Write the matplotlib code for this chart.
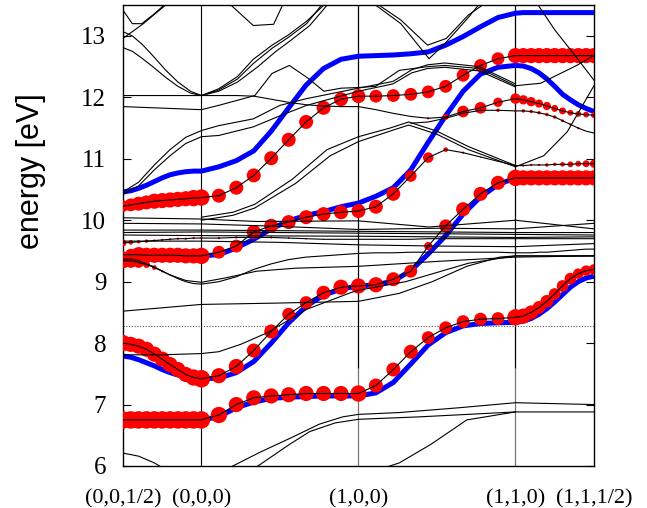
import numpy as np
import matplotlib.pyplot as plt

plt.rcParams['font.family'] = ['Liberation Serif', 'DejaVu Serif']

# path: Z(0,0,1/2) - G(0,0,0) - X(1,0,0) - M(1,1,0) - A(1,1,1/2)
kZ, kG, kX, kM, kA = 0.0, 0.5, 1.5, 2.5, 3.0
k = np.concatenate([np.linspace(kZ, kG, 11),
                    kG + np.arange(1, 10) / 9,
                    kX + np.arange(1, 10) / 9,
                    kM + np.arange(1, 11) * 0.05])

tick_pos = [kZ, kG, kX, kM, kA]
tick_lab = ['(0,0,1/2)', '(0,0,0)', '(1,0,0)', '(1,1,0)', '(1,1,1/2)']
e_fermi = 8.28

# bands carrying orbital weight (energy, dot diameter in px)
band_a = [6.75, 6.75, 6.75, 6.75, 6.75, 6.75, 6.75, 6.75, 6.75, 6.75, 6.75,
          6.83, 7.00, 7.11, 7.14, 7.16, 7.18, 7.18, 7.18, 7.18,
          7.31, 7.57, 7.86, 8.09, 8.25, 8.35, 8.39, 8.40, 8.42,
          8.44, 8.50, 8.58, 8.68, 8.80, 8.93, 9.05, 9.13, 9.18, 9.20]
size_a = [15, 15, 15, 15, 15, 15, 15, 15, 15, 15, 15,
          14, 13, 13, 13, 13, 13, 13, 13, 14,
          12, 12, 12, 11, 11, 11, 11, 11, 14,
          13, 12, 11, 11, 10, 10, 10, 9, 9, 9]

band_b = [8.00, 7.98, 7.95, 7.90, 7.82, 7.74, 7.65, 7.57, 7.49, 7.44, 7.42,
          7.47, 7.62, 7.88, 8.19, 8.47, 8.66, 8.82, 8.91, 8.93,
          8.95, 9.04, 9.17, 9.58, 9.91, 10.18, 10.43, 10.61, 10.69,
          10.69, 10.69, 10.69, 10.69, 10.69, 10.69, 10.69, 10.69, 10.69, 10.69]
size_b = [14, 13, 13, 13, 13, 13, 13, 13, 13, 14, 15,
          13, 13, 12, 12, 11, 11, 12, 13, 13,
          13, 12, 11, 7, 11, 12, 12, 12, 14,
          13, 13, 13, 13, 13, 13, 13, 13, 13, 13]

band_c = [9.44, 9.44, 9.44, 9.43, 9.43, 9.43, 9.43, 9.43, 9.42, 9.42, 9.42,
          9.48, 9.58, 9.81, 9.91, 9.97, 10.05, 10.10, 10.13, 10.15,
          10.22, 10.43, 10.72, 11.02, 11.15, 11.10, 11.03, 10.96, 10.89,
          10.89, 10.90, 10.90, 10.90, 10.91, 10.91, 10.91, 10.92, 10.92, 10.92]
size_c = [6, 10, 13, 13, 13, 13, 13, 13, 13, 13, 14,
          11, 11, 12, 12, 12, 12, 12, 12, 12,
          12, 12, 10, 9, 4, 2, 1, 1, 2,
          2, 2, 2, 3, 3, 4, 5, 5, 6, 7]

band_d = [10.23, 10.25, 10.27, 10.29, 10.31, 10.32, 10.33, 10.34, 10.35, 10.36, 10.37,
          10.40, 10.53, 10.73, 11.01, 11.31, 11.60, 11.83, 11.97, 12.02,
          12.02, 12.03, 12.05, 12.09, 12.18, 12.36, 12.52, 12.63, 12.68,
          12.68, 12.68, 12.68, 12.68, 12.68, 12.68, 12.68, 12.68, 12.68, 12.68]
size_d = [10, 11, 12, 12, 13, 13, 13, 13, 13, 14, 14,
          12, 12, 12, 12, 12, 12, 12, 12, 12,
          11, 11, 11, 11, 11, 11, 11, 11, 13,
          13, 13, 13, 13, 13, 13, 13, 13, 13, 13]

band_e = [9.34, 9.34, 9.31, 9.28, 9.23, 9.17, 9.11, 9.05, 9.00, 8.97, 8.96,
          9.00, 9.08, 9.20, 9.29, 9.36, 9.40, 9.42, 9.44, 9.46,
          9.47, 9.47, 9.48, 9.48, 9.48, 9.48, 9.48, 9.48, 9.47,
          9.47, 9.47, 9.48, 9.48, 9.49, 9.50, 9.51, 9.52, 9.53, 9.53]
size_e = [13, 12, 9, 6, 4, 2, 1, 0, 0, 0, 0,
          0, 0, 0, 0, 0, 0, 0, 0, 0,
          0, 0, 0, 0, 0, 0, 0, 0, 0,
          0, 0, 0, 0, 0, 0, 0, 0, 0, 0]

band_f = [9.63, 9.64, 9.65, 9.66, 9.67, 9.68, 9.69, 9.70, 9.70, 9.71, 9.71,
          9.71, 9.72, 9.72, 9.72, 9.71, 9.70, 9.69, 9.69, 9.69,
          9.69, 9.69, 9.69, 9.70, 9.70, 9.70, 9.70, 9.70, 9.70,
          9.70, 9.70, 9.70, 9.70, 9.70, 9.70, 9.70, 9.70, 9.70, 9.70]
size_f = [6, 4, 3, 3, 2, 2, 2, 2, 2, 2, 2,
          2, 2, 2, 2, 1.5, 1.5, 1, 0, 0,
          0, 0, 0, 0, 0, 0, 0, 0, 0,
          0, 0, 0, 0, 0, 0, 0, 0, 0, 0]

band_g = [12.03, 12.03, 12.03, 12.03, 12.03, 12.03, 12.03, 12.03, 12.03, 12.03, 12.03,
          12.03, 12.03, 12.02, 11.97, 11.92, 11.88, 11.86, 11.85, 11.85,
          11.80, 11.74, 11.69, 11.66, 11.68, 11.77, 11.83, 11.92, 11.98,
          11.96, 11.93, 11.90, 11.86, 11.82, 11.78, 11.75, 11.73, 11.72, 11.71]
size_g = [0, 0, 0, 0, 0, 0, 0, 0, 0, 0, 0,
          0, 0, 0, 0, 0, 0, 0, 0, 0,
          0, 0, 0, 2, 5, 10, 10, 8, 9,
          8, 8, 7, 7, 6, 6, 5, 5, 5, 5]

# from k point 22 on (X-M, towards M and on to A)
band_h = [11.58, 11.60, 11.66, 11.74, 11.79, 11.79, 11.78, 11.78, 11.77, 11.75, 11.72,
          11.68, 11.62, 11.56, 11.50, 11.45, 11.42]
size_h = [0, 0, 0, 0, 4, 3, 2, 3, 3, 3, 3, 3, 2.5, 2, 2, 0, 0]

dot_bands = [(0, band_a, size_a), (0, band_b, size_b), (0, band_c, size_c),
             (0, band_d, size_d), (0, band_e, size_e), (0, band_f, size_f),
             (0, band_g, size_g), (22, band_h, size_h)]

# model bands
blue_1 = [6.75, 6.75, 6.75, 6.75, 6.75, 6.75, 6.75, 6.75, 6.75, 6.75, 6.75,
          6.80, 6.95, 7.04, 7.10, 7.12, 7.13, 7.14, 7.14, 7.14,
          7.19, 7.36, 7.66, 7.97, 8.17, 8.28, 8.32, 8.33, 8.34,
          8.36, 8.40, 8.47, 8.56, 8.67, 8.79, 8.91, 9.00, 9.06, 9.09]
blue_2 = [7.79, 7.77, 7.73, 7.68, 7.63, 7.57, 7.52, 7.48, 7.45, 7.43, 7.42,
          7.43, 7.52, 7.70, 8.00, 8.33, 8.60, 8.78, 8.88, 8.93,
          8.95, 9.01, 9.18, 9.45, 9.75, 10.10, 10.38, 10.58, 10.69,
          10.69, 10.69, 10.69, 10.69, 10.69, 10.69, 10.69, 10.69, 10.69, 10.69]
blue_3 = [9.44, 9.43, 9.43, 9.43, 9.42, 9.42, 9.42, 9.42, 9.42, 9.42, 9.42,
          9.44, 9.55, 9.69, 9.86, 9.99, 10.08, 10.14, 10.22, 10.28,
          10.39, 10.53, 10.82, 11.27, 11.70, 12.10, 12.38, 12.49, 12.52,
          12.51, 12.47, 12.40, 12.30, 12.18, 12.05, 11.96, 11.88, 11.82, 11.77]
blue_4 = [10.46, 10.48, 10.52, 10.57, 10.63, 10.69, 10.74, 10.77, 10.79, 10.80, 10.80,
          10.87, 10.97, 11.13, 11.45, 11.83, 12.20, 12.47, 12.62, 12.67,
          12.68, 12.69, 12.71, 12.74, 12.85, 12.99, 13.15, 13.30, 13.37,
          13.38, 13.38, 13.38, 13.38, 13.38, 13.38, 13.38, 13.38, 13.38, 13.38]
blue_bands = [blue_1, blue_2, blue_3, blue_4]

# remaining bands as (k, E) polylines
thin_bands = [
    ([0, 0.1, 0.2, 0.3], [6.21, 6.16, 6.05, 5.9]),
    ([0.70, 0.87, 1.08, 1.25, 1.40, 1.50, 1.76, 2.15, 2.50, 3.0],
     [6.0, 6.22, 6.47, 6.68, 6.80, 6.84, 6.87, 6.95, 7.03, 7.0]),
    ([0.86, 1.06, 1.19, 1.35, 1.50, 1.89, 2.50, 3.0],
     [6.0, 6.35, 6.56, 6.70, 6.76, 6.80, 6.88, 6.88]),
    ([1.64, 1.76, 1.96, 2.19, 2.50], [5.95, 6.05, 6.35, 6.75, 6.88]),
    ([0, 0.25, 0.5, 0.61, 0.75, 0.92, 1.17, 1.46, 1.5, 1.8, 2.2, 2.5, 3.0],
     [7.81, 7.81, 7.83, 7.86, 7.98, 8.17, 8.55, 8.83, 8.86, 9.0, 9.3, 9.42, 9.42]),
    ([0, 0.5, 0.95, 1.5, 1.76, 1.97, 2.19, 2.4, 2.5, 3.0],
     [8.52, 8.63, 8.65, 8.68, 8.81, 9.0, 9.25, 9.4, 9.42, 9.42]),
    ([0, 0.05, 0.1, 0.2, 0.3, 0.4, 0.5, 0.65, 0.85, 1.1, 1.5, 2.0, 2.5, 3.0],
     [9.37, 9.37, 9.34, 9.24, 9.11, 9.02, 8.99, 9.06, 9.17, 9.22, 9.25, 9.33, 9.40, 9.42]),
    # flat cluster around 9.6 - 10.1
    ([0, 0.5, 0.85, 1.5, 1.95, 2.5, 3.0], [10.04, 10.02, 9.98, 9.99, 9.89, 10.0, 9.86]),
    ([0, 0.5, 1.0, 1.5, 2.0, 2.5, 3.0], [9.95, 9.94, 9.90, 9.85, 9.87, 9.86, 9.95]),
    ([0, 0.5, 1.5, 2.5, 3.0], [9.84, 9.84, 9.82, 9.80, 9.80]),
    ([0, 0.5, 1.5, 2.5, 3.0], [9.80, 9.81, 9.79, 9.77, 9.76]),
    ([0, 0.5, 1.5, 2.5, 3.0], [9.76, 9.75, 9.74, 9.72, 9.73]),
    ([0, 0.5, 1.0, 1.5, 2.0, 2.5, 3.0], [9.66, 9.66, 9.64, 9.60, 9.58, 9.57, 9.62]),
    # upper manifold
    ([0, 0.5, 0.61, 0.84, 0.95, 1.06, 1.18, 1.28, 1.39, 1.5, 1.61, 1.76, 1.94, 2.05,
      2.27, 2.5, 2.66, 2.89, 3.0],
     [11.85, 11.80, 11.87, 12.03, 12.39, 12.52, 12.31, 12.10, 12.15, 12.16, 12.18,
      12.44, 12.50, 12.52, 12.47, 12.19, 12.23, 12.52, 12.68]),
    ([0, 0.06, 0.12, 0.19, 0.27, 0.35, 0.43, 0.5],
     [13.07, 13.0, 12.87, 12.68, 12.45, 12.25, 12.10, 12.03]),
    ([0, 0.06, 0.12, 0.19, 0.27, 0.35, 0.43, 0.5],
     [12.81, 12.75, 12.64, 12.50, 12.33, 12.18, 12.07, 12.03]),
    ([0.5, 0.61, 0.73, 0.83, 0.95, 1.05, 1.17, 1.3],
     [12.03, 12.14, 12.34, 12.62, 12.85, 13.01, 13.24, 13.55]),
    ([0.5, 0.61, 0.73, 0.83, 0.95, 1.05, 1.17, 1.28],
     [12.03, 12.12, 12.30, 12.55, 12.80, 12.97, 13.20, 13.55]),
    ([0.5, 0.61, 0.73, 0.86, 0.97, 1.07, 1.19, 1.3],
     [12.03, 12.10, 12.25, 12.50, 12.74, 12.93, 13.17, 13.5]),
    ([0, 0.06, 0.13, 0.2, 0.28], [12.96, 13.07, 13.2, 13.35, 13.52]),
    ([0, 0.06, 0.12, 0.2, 0.27], [13.42, 13.2, 13.2, 13.36, 13.52]),
    ([0.68, 0.83, 0.96, 1.02], [13.52, 13.17, 13.19, 13.52]),
    ([0, 0.1, 0.2, 0.3, 0.4, 0.5, 0.61, 0.83, 1.0, 1.17, 1.5, 1.72, 1.84, 1.94,
      2.05, 2.27, 2.5],
     [10.46, 10.62, 10.90, 11.15, 11.35, 11.46, 11.54, 11.65, 11.87, 11.98, 12.15,
      12.26, 12.45, 12.53, 12.56, 12.50, 12.22]),
    ([0, 0.1, 0.2, 0.3, 0.4, 0.5, 0.61, 0.83, 1.0, 1.17, 1.5, 1.72, 1.84, 1.94,
      2.05, 2.27, 2.5],
     [10.42, 10.56, 10.82, 11.05, 11.25, 11.36, 11.38, 11.52, 11.70, 11.87, 12.10,
      12.22, 12.40, 12.47, 12.49, 12.43, 12.17]),
    ([0.5, 0.7, 0.84, 1.08, 1.3, 1.5, 1.7, 1.82, 2.0, 2.2, 2.5],
     [10.05, 10.13, 10.26, 10.67, 11.15, 11.36, 11.5, 11.6, 11.45, 11.2, 10.89]),
    ([0.5, 0.7, 0.84, 1.1, 1.32, 1.5, 1.7, 1.82, 2.0, 2.2, 2.5],
     [10.0, 10.08, 10.2, 10.6, 11.05, 11.28, 11.45, 11.55, 11.4, 11.15, 10.87]),
    ([2.5, 2.68, 2.83, 3.0], [10.87, 11.05, 11.44, 12.19]),
    ([2.64, 2.75, 2.88, 3.0], [13.52, 13.1, 12.68, 12.28]),
    ([1.62, 1.77, 1.94, 2.06, 2.2, 2.3], [13.52, 13.26, 12.85, 12.96, 13.34, 13.52]),
    ([1.6, 1.77, 1.95, 2.06, 2.2, 2.27], [13.52, 13.2, 12.63, 12.9, 13.3, 13.52]),
]

fig = plt.figure(figsize=(6.47, 5.08), dpi=100)
ax = fig.add_axes([0.190, 0.0827, 0.728, 0.907])

for e in blue_bands:
    ax.plot(k, e, color='#0000ff', lw=3.6, zorder=2, solid_capstyle='butt')

for i0, e, s in dot_bands:
    kk = k[i0:i0 + len(e)]
    e = np.array(e)
    s = np.array(s, dtype=float)
    m = s > 0
    ax.scatter(kk[m], e[m], s=(s[m] * 0.84) ** 2, color='#ff0000',
               edgecolors='none', zorder=3)
    ax.plot(kk, e, color='black', lw=0.8, zorder=4)

for kk, e in thin_bands:
    ax.plot(kk, e, color='black', lw=0.8, zorder=4)

# high-symmetry lines: black above 7.6 eV, grey below at X and M
ax.axvline(kG, color='black', lw=0.8, zorder=1)
for x in (kX, kM):
    ax.plot([x, x], [7.6, 13.5], color='black', lw=0.9, zorder=1)
    ax.plot([x, x], [6.0, 7.6], color='#777777', lw=0.9, zorder=1)
ax.axhline(e_fermi, color='#555555', lw=0.8, ls=(0, (1, 1.5)), zorder=1)

ax.set_xlim(kZ, kA)
ax.set_ylim(6, 13.5)
ax.set_xticks(tick_pos)
ax.set_xticklabels(tick_lab, fontsize=16)
ax.set_yticks(range(6, 14))
ax.tick_params(axis='y', direction='in', length=6, right=True, labelsize=18, pad=12)
ax.tick_params(axis='x', length=0, pad=17)
ax.set_ylabel('energy [eV]', fontsize=22, family='Liberation Sans')
ax.yaxis.set_label_coords(-0.163, 0.64)
for sp in ax.spines.values():
    sp.set_linewidth(1.0)

fig.savefig('out.png', dpi=100)
